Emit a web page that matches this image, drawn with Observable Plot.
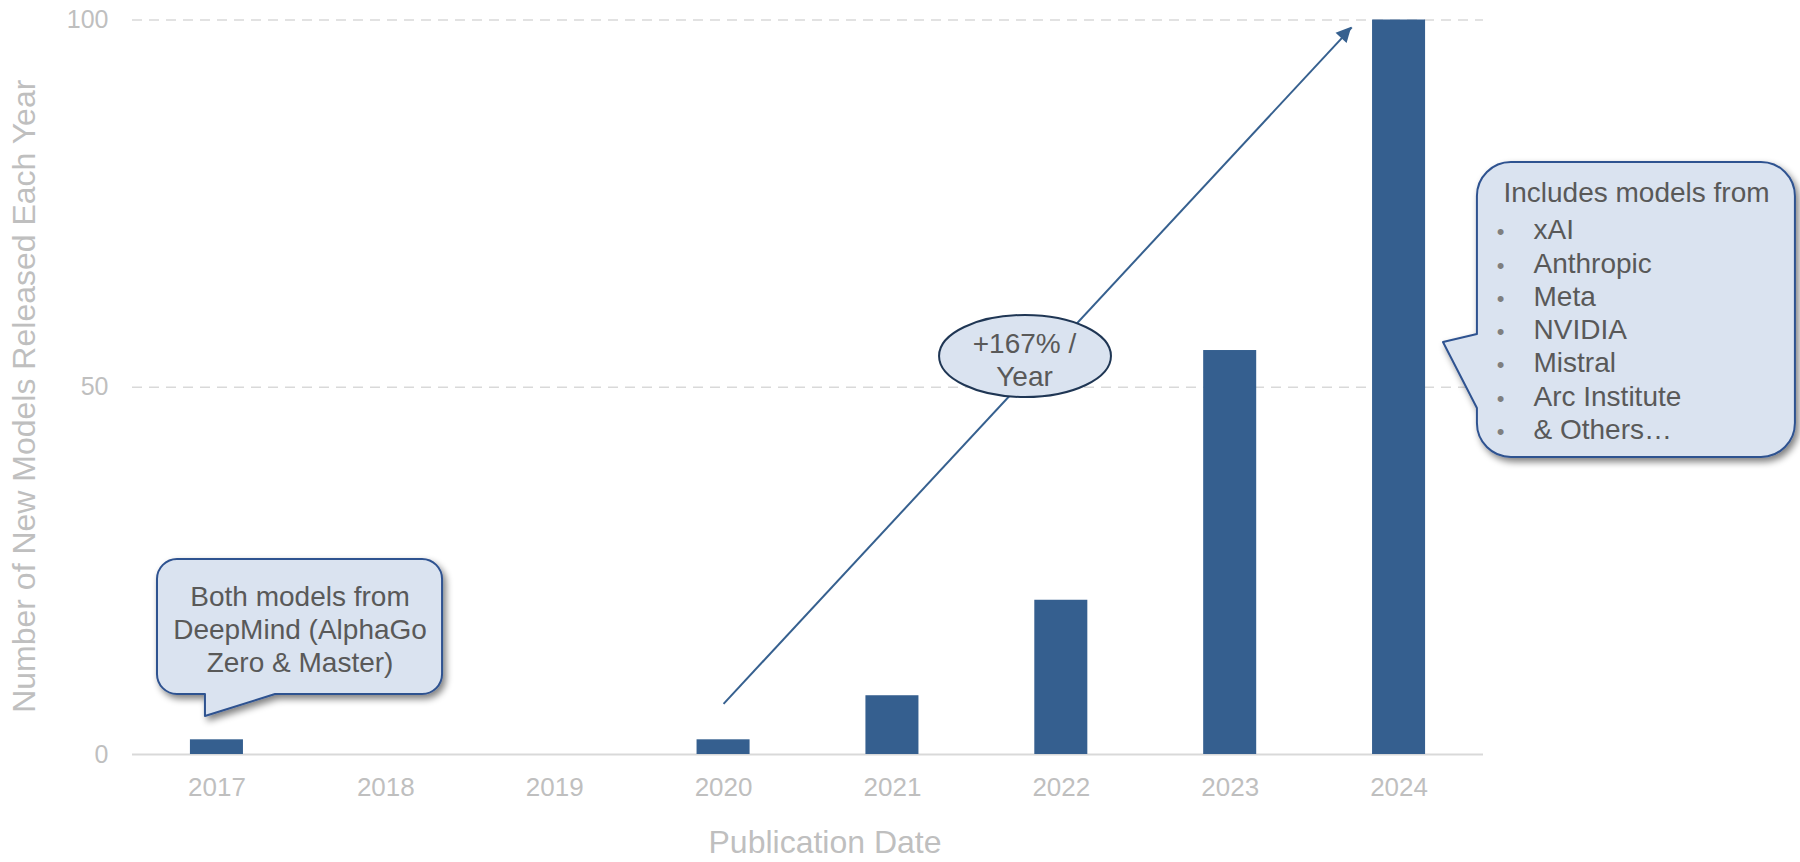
<!DOCTYPE html>
<html>
<head>
<meta charset="utf-8">
<script src="https://cdn.jsdelivr.net/npm/d3@7"></script>
<script src="https://cdn.jsdelivr.net/npm/@observablehq/plot@0.6"></script>
<style>
  html, body { margin: 0; padding: 0; background: #ffffff; }
  #chart svg { display: block; }
</style>
</head>
<body>
<div id="chart"></div>
<script>
// ---- data ----
const years = [2017, 2018, 2019, 2020, 2021, 2022, 2023, 2024];
const modelCounts = [2, 0, 0, 2, 8, 21, 55, 100];
const yTicks = [0, 50, 100];
const gridValues = [50, 100];
const xTitle = "Publication Date";
const yTitle = "Number of New Models Released Each Year";
const deepmindNote = ["Both models from", "DeepMind (AlphaGo", "Zero & Master)"];
const growthNote = ["+167% /", "Year"];
const listHeader = "Includes models from";
const listItems = ["xAI", "Anthropic", "Meta", "NVIDIA", "Mistral", "Arc Institute", "& Others…"];
const trendArrow = [{x1: 2020.0, y1: 6.9, x2: 2023.72, y2: 99.0}];

// ---- annotation anchors (data units) ----
const deepmindCallout = {x1: 2016.648, x2: 2018.336, top: 26.55, bottom: 8.17, radius: 20, side: "bottom",
  tailFrom: 2016.932, tailTo: 2017.347, tipX: 2016.932, tipY: 5.17, id: "shadowA"};
const listCallout = {x1: 2024.464, x2: 2026.347, top: 80.6, bottom: 40.44, radius: 34, side: "left",
  tailFrom: 57.18, tailTo: 47.1, tipX: 2024.263, tipY: 56.09, id: "shadowB"};
const growthEllipse = {x1: 2021.279, x2: 2022.297, top: 59.77, bottom: 48.6};

const table = years.map((year, i) => ({year, count: modelCounts[i]}));

const BAR = "#355f8f";
const BUBBLE_FILL = "#dae3f0";
const BUBBLE_STROKE = "#2f5290";
const NOTE_TEXT = "#595959";
const AXIS_TEXT = "#bfbfbf";

function bubbleMark(b) {
  return (index, scales) => {
    const x = scales.x, y = scales.y;
    const X1 = x(b.x1), X2 = x(b.x2), Y1 = y(b.top), Y2 = y(b.bottom), r = b.radius;
    const TX = x(b.tipX), TY = y(b.tipY);
    const p = d3.path();
    p.moveTo(X1 + r, Y1);
    p.lineTo(X2 - r, Y1);
    p.arcTo(X2, Y1, X2, Y1 + r, r);
    p.lineTo(X2, Y2 - r);
    p.arcTo(X2, Y2, X2 - r, Y2, r);
    if (b.side === "bottom") {
      const A = x(b.tailFrom), B = x(b.tailTo);
      p.lineTo(B, Y2); p.lineTo(TX, TY); p.lineTo(A, Y2);
    }
    p.lineTo(X1 + r, Y2);
    p.arcTo(X1, Y2, X1, Y2 - r, r);
    if (b.side === "left") {
      const upper = y(b.tailFrom), lower = y(b.tailTo);
      p.lineTo(X1, lower); p.lineTo(TX, TY); p.lineTo(X1, upper);
    }
    p.lineTo(X1, Y1 + r);
    p.arcTo(X1, Y1, X1 + r, Y1, r);
    p.closePath();
    const g = d3.create("svg:g");
    const f = g.append("defs").append("filter").attr("id", b.id)
      .attr("x", "-20%").attr("y", "-20%").attr("width", "140%").attr("height", "140%");
    f.append("feGaussianBlur").attr("in", "SourceAlpha").attr("stdDeviation", 3.5);
    f.append("feOffset").attr("dx", 3).attr("dy", 4).attr("result", "o");
    f.append("feComponentTransfer").append("feFuncA").attr("type", "linear").attr("slope", 0.5);
    const m = f.append("feMerge");
    m.append("feMergeNode");
    m.append("feMergeNode").attr("in", "SourceGraphic");
    g.append("path").attr("d", p.toString())
      .attr("fill", BUBBLE_FILL).attr("stroke", BUBBLE_STROKE).attr("stroke-width", 2)
      .attr("stroke-linejoin", "round").attr("filter", `url(#${b.id})`);
    return g.node();
  };
}

function ellipseMark(e) {
  return (index, scales) => {
    const x = scales.x, y = scales.y;
    const X1 = x(e.x1), X2 = x(e.x2), Y1 = y(e.top), Y2 = y(e.bottom);
    const g = d3.create("svg:g");
    g.append("ellipse")
      .attr("cx", (X1 + X2) / 2).attr("cy", (Y1 + Y2) / 2)
      .attr("rx", (X2 - X1) / 2).attr("ry", (Y2 - Y1) / 2)
      .attr("fill", BUBBLE_FILL).attr("stroke", "#1f3654").attr("stroke-width", 2);
    return g.node();
  };
}

function arrowHeadMark(a) {
  return (index, scales) => {
    const x = scales.x, y = scales.y;
    const x1 = x(a.x1), y1 = y(a.y1), x2 = x(a.x2), y2 = y(a.y2);
    const len = Math.hypot(x2 - x1, y2 - y1), ux = (x2 - x1) / len, uy = (y2 - y1) / len;
    const L = 15, W = 7.5;
    const bx = x2 - ux * L, by = y2 - uy * L;
    const g = d3.create("svg:g");
    g.append("path")
      .attr("d", `M${x2},${y2}L${bx - uy * W},${by + ux * W}L${bx + uy * W},${by - ux * W}Z`)
      .attr("fill", "#36608f");
    return g.node();
  };
}

const chart = Plot.plot({
  width: 1800,
  height: 862,
  marginLeft: 132,
  marginRight: 317,
  marginTop: 19.5,
  marginBottom: 108,
  style: {fontFamily: '"Liberation Sans", Arial, sans-serif', background: "#ffffff", overflow: "visible"},
  x: {type: "linear", domain: [2016.5, 2024.5]},
  y: {domain: [0, 100]},
  marks: [
    Plot.ruleY(gridValues, {stroke: "#d9d9d9", strokeWidth: 1.5, strokeDasharray: "10,7"}),
    Plot.ruleY([0], {stroke: "#d9d9d9", strokeWidth: 2}),
    Plot.axisY({ticks: yTicks, tickSize: 0, tickPadding: 24, fontSize: 25, color: AXIS_TEXT, label: null}),
    Plot.axisX({ticks: years, tickFormat: d => String(d), tickSize: 0, tickPadding: 23, fontSize: 26, color: AXIS_TEXT, label: null}),
    Plot.text([yTitle], {frameAnchor: "left", textAnchor: "middle", lineAnchor: "middle", rotate: -90,
      dx: -108, dy: 9, fontSize: 32, fill: AXIS_TEXT}),
    Plot.text([xTitle], {frameAnchor: "bottom", textAnchor: "middle", lineAnchor: "middle",
      dx: 17, dy: 88, fontSize: 32, fill: AXIS_TEXT}),
    Plot.rectY(table, {x1: d => d.year - 0.157, x2: d => d.year + 0.157, y: "count", fill: BAR}),
    Plot.link(trendArrow, {x1: "x1", y1: "y1", x2: "x2", y2: "y2", stroke: "#36608f", strokeWidth: 2}),
    arrowHeadMark(trendArrow[0]),
    bubbleMark(deepmindCallout),
    bubbleMark(listCallout),
    ellipseMark(growthEllipse),
    Plot.text([deepmindNote.join("\n")], {x: 2017.492, y: 17.11, textAnchor: "middle", lineAnchor: "middle",
      lineHeight: 1.18, fontSize: 28, fill: NOTE_TEXT}),
    Plot.text([growthNote.join("\n")], {x: 2021.782, y: 53.85, textAnchor: "middle", lineAnchor: "middle",
      lineHeight: 1.18, fontSize: 28, fill: NOTE_TEXT}),
    Plot.text([listHeader], {x: 2024.618, y: 76.38, textAnchor: "start", lineAnchor: "middle",
      fontSize: 28, fill: NOTE_TEXT}),
    Plot.text([listItems.map(() => "•").join("\n")], {x: 2024.601, y: 58.0, textAnchor: "middle", lineAnchor: "middle",
      lineHeight: 33.3 / 22, fontSize: 22, fill: "#7f7f7f"}),
    Plot.text([listItems.join("\n")], {x: 2024.796, y: 58.0, textAnchor: "start", lineAnchor: "middle",
      lineHeight: 33.3 / 28, fontSize: 28, fill: NOTE_TEXT})
  ]
});

document.getElementById("chart").appendChild(chart);
</script>
</body>
</html>
